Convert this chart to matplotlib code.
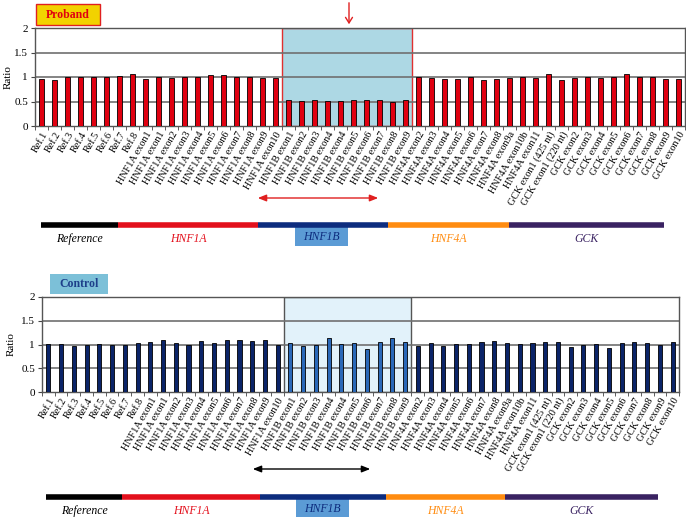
import matplotlib
matplotlib.use("Agg")
import matplotlib.pyplot as plt
from matplotlib.patches import Rectangle, FancyBboxPatch, FancyArrowPatch

plt.rcParams["font.family"] = ["Liberation Serif", "DejaVu Serif"]

labels = (["Ref.1", "Ref.2", "Ref.3", "Ref.4", "Ref.5", "Ref.6", "Ref.7", "Ref.8"]
          + ["HNF1A exon1", "HNF1A exon1", "HNF1A exon2", "HNF1A exon3", "HNF1A exon4",
             "HNF1A exon5", "HNF1A exon6", "HNF1A exon7", "HNF1A exon8", "HNF1A exon9",
             "HNF1A exon10"]
          + ["HNF1B exon1", "HNF1B exon2", "HNF1B exon3", "HNF1B exon4", "HNF1B exon4",
             "HNF1B exon5", "HNF1B exon6", "HNF1B exon7", "HNF1B exon8", "HNF1B exon9"]
          + ["HNF4A exon2", "HNF4A exon3", "HNF4A exon4", "HNF4A exon5", "HNF4A exon6",
             "HNF4A exon7", "HNF4A exon8", "HNF4A exon9a", "HNF4A exon10b", "HNF4A exon11"]
          + ["GCK exon1 (425 nt)", "GCK exon1 (220 nt)", "GCK exon2", "GCK exon3",
             "GCK exon4", "GCK exon5", "GCK exon6", "GCK exon7", "GCK exon8", "GCK exon9",
             "GCK exon10"])

proband = [0.96, 0.93, 1.01, 0.99, 0.99, 1.00, 1.02, 1.07,
           0.95, 0.99, 0.97, 0.99, 1.00, 1.05, 1.04, 0.99, 1.00, 0.97, 0.98,
           0.54, 0.51, 0.54, 0.52, 0.51, 0.54, 0.54, 0.54, 0.50, 0.54,
           0.99, 0.97, 0.96, 0.96, 1.00, 0.93, 0.95, 0.97, 1.00, 0.98,
           1.06, 0.93, 0.97, 0.99, 0.97, 1.00, 1.06, 1.00, 1.01, 0.95, 0.96]

control = [1.02, 1.02, 0.97, 0.98, 1.02, 0.99, 0.99, 1.04,
           1.05, 1.09, 1.03, 0.99, 1.07, 1.04, 1.09, 1.10, 1.07, 1.10, 1.00,
           1.03, 0.96, 1.00, 1.14, 1.02, 1.04, 0.90, 1.06, 1.13, 1.05,
           0.97, 1.03, 0.97, 1.02, 1.01, 1.05, 1.07, 1.03, 1.02, 1.04,
           1.05, 1.05, 0.95, 1.00, 1.02, 0.93, 1.03, 1.05, 1.03, 1.00, 1.06]

# gene segments: (name, colour)
genes = [("Reference", "black"), ("HNF1A", "#e3101c"), ("HNF1B", "#0d2c7e"),
         ("HNF4A", "#ff8c10"), ("GCK", "#3a2262")]
text_colors = {"Reference": "black", "HNF1A": "#e3101c", "HNF1B": "#0d2c7e",
               "HNF4A": "#ff8c10", "GCK": "#3a2262"}
hnf1b_lo, hnf1b_hi = 19, 28

W, H = 686, 517
fig = plt.figure(figsize=(W / 100, H / 100), dpi=100)


def px(x0, y0, x1, y1):
    return [x0 / W, 1 - y1 / H, (x1 - x0) / W, (y1 - y0) / H]


def panel(rect, values, bar_colors, shade_face, shade_edge, label_x):
    ax = fig.add_axes(rect)
    n = len(values)
    x = list(range(n))
    ax.add_patch(Rectangle((hnf1b_lo - 0.5, 0), hnf1b_hi - hnf1b_lo + 1, 2,
                           facecolor=shade_face, edgecolor=shade_edge, lw=1.0, zorder=1))
    for yv in [0.5, 1.0, 1.5, 2.0]:
        ax.axhline(yv, color="#707070", lw=1.2, zorder=2)
    ax.bar(x, values, width=0.32, color=bar_colors, edgecolor="black", lw=0.6, zorder=3)
    ax.set_xlim(-0.5, n - 0.5)
    ax.set_ylim(0, 2)
    ax.set_yticks([0, 0.5, 1, 1.5, 2])
    ax.set_yticklabels(["0", "0.5", "1", "1.5", "2"], fontsize=8)
    ax.set_xticks(x)
    ax.set_xticklabels(labels, rotation=60, ha="right", rotation_mode="anchor", fontsize=7.3)
    ax.tick_params(axis="x", length=0, pad=3)
    ax.set_xticks([i - 0.5 for i in range(n + 1)], minor=True)
    ax.tick_params(axis="x", which="minor", length=3, color="#444444")
    ax.tick_params(axis="y", length=3, color="#444444", pad=2)
    for s in ax.spines.values():
        s.set_color("#555555")
        s.set_linewidth(1.0)
    ax.set_ylabel("Ratio", fontsize=8)
    ax.yaxis.set_label_coords(label_x, 0.5)
    return ax


# --- Proband panel ---
ax1 = panel(px(35, 28, 685, 126), proband, "#e00010", "#add8e4", "#e03030", -0.034)
fig.add_artist(FancyBboxPatch((36 / W, 1 - 25 / H), 64 / W, 21 / H,
                              boxstyle="square,pad=0", transform=fig.transFigure,
                              facecolor="#f2d200", edgecolor="#e02020", lw=1.0))
fig.text(68 / W, 1 - 14.5 / H, "Proband", color="#e00010", fontsize=8.5,
         fontweight="bold", ha="center", va="center")
fig.add_artist(FancyArrowPatch(
    (349 / W, 1.0), (349 / W, 1 - 27 / H), transform=fig.transFigure,
    arrowstyle="->,head_length=4,head_width=2.5", color="#e02020", lw=1.0))
fig.add_artist(FancyArrowPatch(
    (255 / W, 1 - 198 / H), (381 / W, 1 - 198 / H), transform=fig.transFigure,
    arrowstyle="<|-|>,head_length=5,head_width=2", color="#e02020", lw=1.0))

# --- Control panel ---
ctrl_colors = ["#2a68b8" if hnf1b_lo <= i <= hnf1b_hi else "#0b2468"
               for i in range(len(control))]
ax2 = panel(px(42, 297, 679, 392), control, ctrl_colors, "#e2f2fa", "#555555", -0.042)
fig.add_artist(FancyBboxPatch((50 / W, 1 - 294 / H), 58 / W, 20 / H,
                              boxstyle="square,pad=0", transform=fig.transFigure,
                              facecolor="#7cc0d8", edgecolor="none"))
fig.text(79 / W, 1 - 284 / H, "Control", color="#1d3f8a", fontsize=8.5,
         fontweight="bold", ha="center", va="center")
fig.add_artist(FancyArrowPatch(
    (250 / W, 1 - 469 / H), (373 / W, 1 - 469 / H), transform=fig.transFigure,
    arrowstyle="<|-|>,head_length=5,head_width=2", color="black", lw=1.0))


def gene_bar(y, x_edges, box):
    for (name, col), (xa, xb) in zip(genes, x_edges):
        fig.add_artist(plt.Line2D([xa / W, xb / W], [1 - y / H, 1 - y / H],
                                  color=col, lw=4, solid_capstyle="butt",
                                  transform=fig.transFigure))
        if name == "HNF1B":
            fig.add_artist(FancyBboxPatch((box[0] / W, 1 - (y + 21) / H), box[1] / W,
                                          19 / H, boxstyle="square,pad=0",
                                          transform=fig.transFigure,
                                          facecolor="#5b9bd5", edgecolor="none"))
            fig.text((box[0] + box[1] / 2) / W, 1 - (y + 12) / H, name,
                     color=text_colors[name], fontsize=8.5, style="italic",
                     ha="center", va="center")
        else:
            fig.text((xa + xb) / 2 / W, 1 - (y + 14) / H, name,
                     color=text_colors[name], fontsize=8.5, style="italic",
                     ha="center", va="center")


gene_bar(225, [(41, 118), (118, 258), (258, 388), (388, 509), (509, 664)], (295, 53))
gene_bar(497, [(46, 122), (122, 260), (260, 386), (386, 505), (505, 658)], (296, 53))

plt.savefig("out.png", dpi=100)
